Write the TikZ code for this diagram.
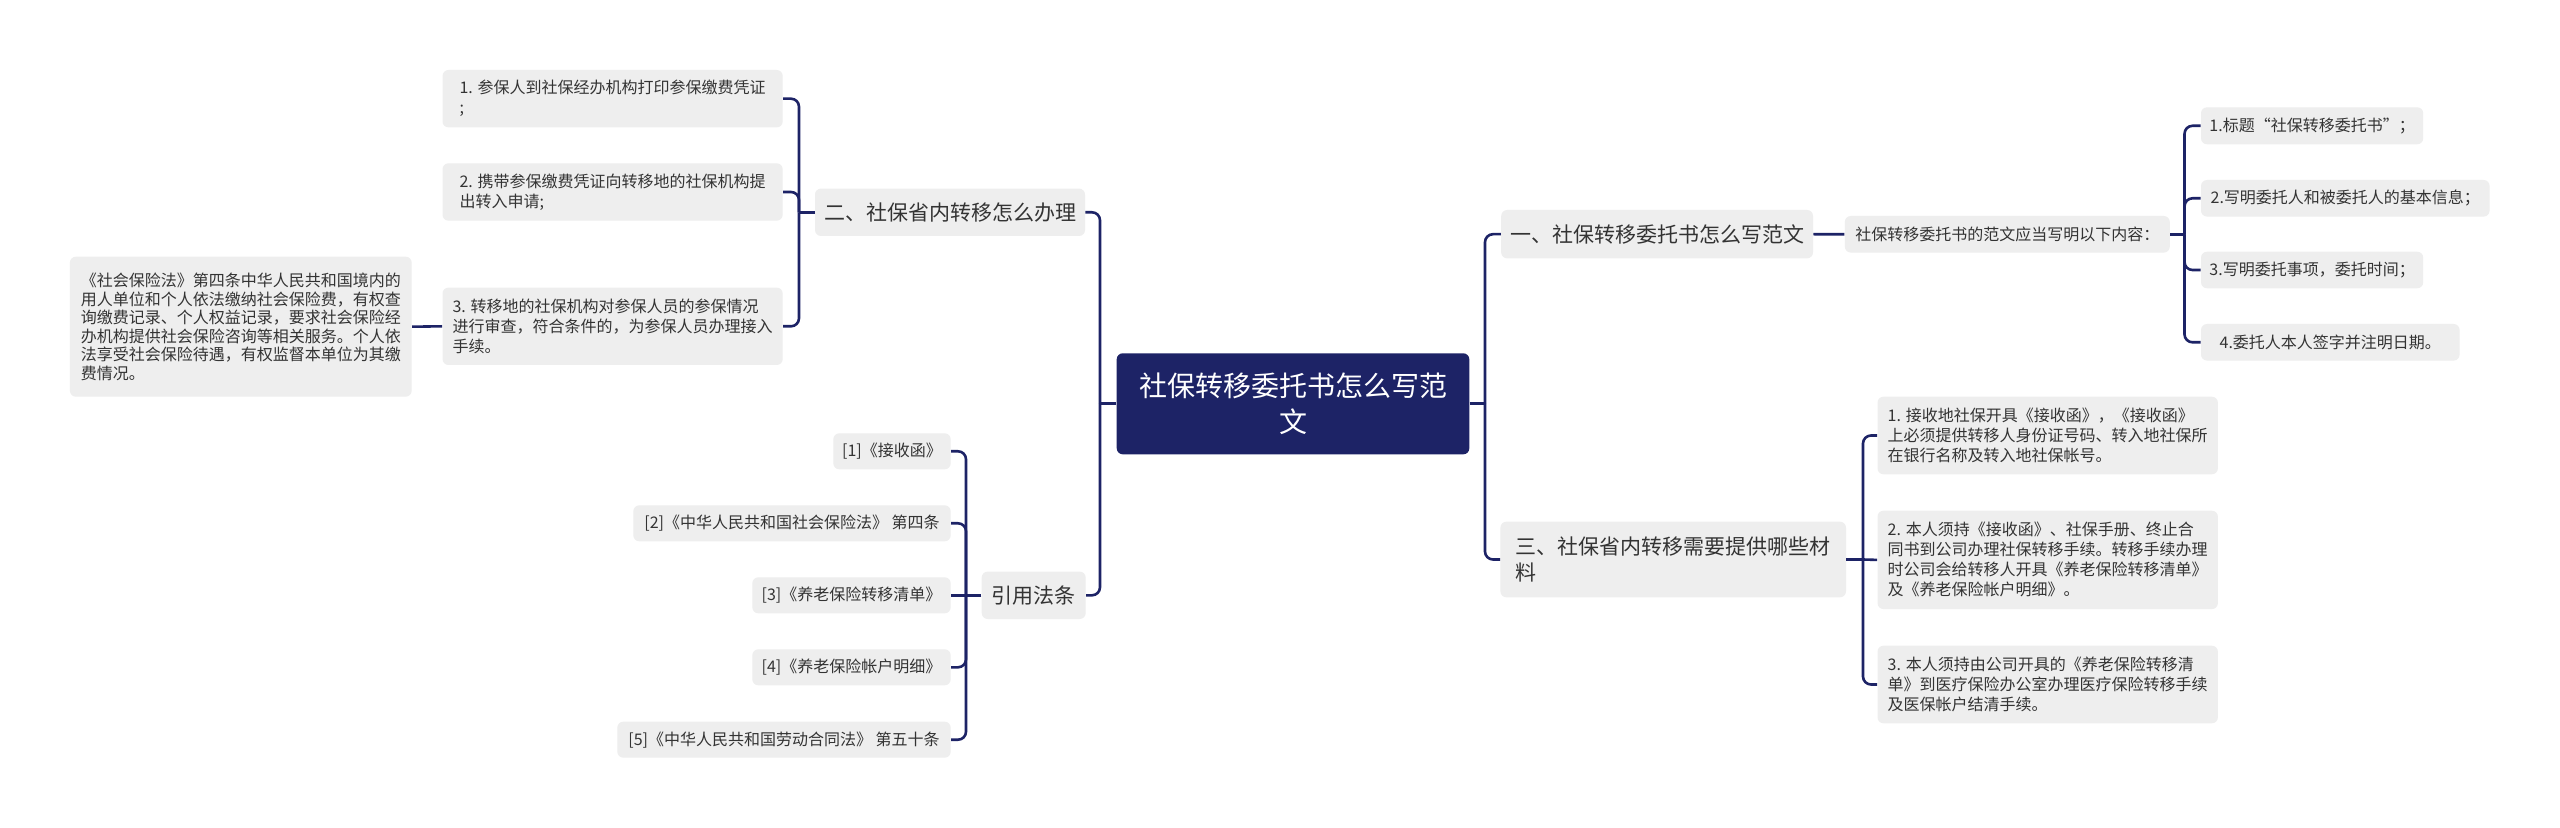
\documentclass[tikz,border=0pt]{standalone}
\usepackage{fontspec}
\setmainfont{Noto Sans CJK SC}
\definecolor{navy}{HTML}{1D2366}
\definecolor{boxgray}{HTML}{EEEEEE}
\definecolor{txt}{HTML}{333333}
\begin{document}
\begin{tikzpicture}[x=0.5pt,y=-0.5pt,
  box/.style={fill=boxgray, rounded corners=3pt, inner sep=0pt, text=txt, align=left},
  leaf/.style={box, font=\fontsize{8}{10}\selectfont},
  topic/.style={box, font=\fontsize{10.5}{13.3}\selectfont},
  rootbox/.style={fill=navy, rounded corners=3pt, inner sep=0pt, text=white, align=center, font=\fontsize{14}{18.3}\selectfont},
  conn/.style={draw=navy, line width=1.3pt, rounded corners=4pt},
  sz/.style 2 args={minimum width=#1pt, minimum height=#2pt}]
\useasboundingbox[fill=white] (0,0) rectangle (2560,828);

% root
\node[rootbox, sz={176.3}{50.5}] (root) at (1293,403.8) {社保转移委托书怎么写范\\文};

% level 1
\node[topic, sz={135}{23.7}] (t2) at (950,212.3) {二、社保省内转移怎么办理};
\node[topic, sz={52}{23.7}] (tr) at (1033.7,595.3) {引用法条};
\node[topic, sz={155.9}{24.2}] (t1) at (1657.1,234.2) {一、社保转移委托书怎么写范文};
\node[topic, sz={172.8}{37.8}] (t3) at (1673.2,559.5) {三、社保省内转移需要提供哪些材\\料};

% branch 二
\node[leaf, sz={170.1}{28.7}] (L1) at (612.6,98.7) {1. 参保人到社保经办机构打印参保缴费凭证\\;};
\node[leaf, sz={170.1}{28.7}] (L2) at (612.6,192) {2. 携带参保缴费凭证向转移地的社保机构提\\出转入申请;};
\node[leaf, sz={170.1}{38.7}] (L3) at (612.6,326.3) {3. 转移地的社保机构对参保人员的参保情况\\进行审查，符合条件的，为参保人员办理接入\\手续。};
\node[box, font=\fontsize{8}{9.25}\selectfont, sz={170.9}{70}] (far) at (240.8,326.7) {《社会保险法》第四条中华人民共和国境内的\\用人单位和个人依法缴纳社会保险费，有权查\\询缴费记录、个人权益记录，要求社会保险经\\办机构提供社会保险咨询等相关服务。个人依\\法享受社会保险待遇，有权监督本单位为其缴\\费情况。};

% branch 引用法条
\node[leaf, sz={58.7}{18}] (f1) at (892,451.3) {[1]《接收函》};
\node[leaf, sz={158.7}{18}] (f2) at (792,523.3) {[2]《中华人民共和国社会保险法》 第四条};
\node[leaf, sz={99.2}{18}] (f3) at (851.5,595.3) {[3]《养老保险转移清单》};
\node[leaf, sz={99.2}{18}] (f4) at (851.5,667.3) {[4]《养老保险帐户明细》};
\node[leaf, sz={166.7}{18}] (f5) at (784,739.7) {[5]《中华人民共和国劳动合同法》 第五十条};

% branch 一
\node[leaf, sz={162.5}{18.3}] (mid) at (2007.3,234.3) {社保转移委托书的范文应当写明以下内容：};
\node[leaf, sz={111.1}{18.5}] (r1) at (2312.1,125.8) {1.标题“社保转移委托书”；};
\node[leaf, sz={144.3}{18.3}] (r2) at (2345.3,198.3) {2.写明委托人和被委托人的基本信息；};
\node[leaf, sz={111.1}{18.3}] (r3) at (2312.1,270) {3.写明委托事项，委托时间；};
\node[leaf, sz={129.3}{18.3}] (r4) at (2330.3,342.3) {4.委托人本人签字并注明日期。};

% branch 三
\node[leaf, sz={170.2}{38.8}] (s1) at (2047.7,435.5) {1. 接收地社保开具《接收函》，《接收函》\\上必须提供转移人身份证号码、转入地社保所\\在银行名称及转入地社保帐号。};
\node[leaf, sz={170.2}{49.2}] (s2) at (2047.7,559.9) {2. 本人须持《接收函》、社保手册、终止合\\同书到公司办理社保转移手续。转移手续办理\\时公司会给转移人开具《养老保险转移清单》\\及《养老保险帐户明细》。};
\node[leaf, sz={170.2}{38.8}] (s3) at (2047.7,684.5) {3. 本人须持由公司开具的《养老保险转移清\\单》到医疗保险办公室办理医疗保险转移手续\\及医保帐户结清手续。};

% junctions
\coordinate (jRL) at (1100,403.8);
\coordinate (jRR) at (1485,403.8);
\coordinate (j2) at (799,212.3);
\coordinate (jr) at (966,595.3);
\coordinate (jm) at (2184.5,234.3);
\coordinate (j3) at (1863,559.5);

% connectors
\draw[conn] (root.west) -- (jRL);
\draw[conn] (jRL) |- (t2.east);
\draw[conn] (jRL) |- (tr.east);
\draw[conn] (root.east) -- (jRR);
\draw[conn] (jRR) |- (t1.west);
\draw[conn] (jRR) |- (t3.west);

\draw[conn] (t2.west) -- (j2);
\draw[conn] (j2) |- (L1.east);
\draw[conn] (j2) |- (L2.east);
\draw[conn] (j2) |- (L3.east);
\draw[conn] (L3.west) -- (far.east);

\draw[conn] (tr.west) -- (jr);
\draw[conn] (jr) |- (f1.east);
\draw[conn] (jr) |- (f2.east);
\draw[conn] (jr) -- (f3.east);
\draw[conn] (jr) |- (f4.east);
\draw[conn] (jr) |- (f5.east);

\draw[conn] (t1.east) -- (mid.west);
\draw[conn] (mid.east) -- (jm);
\draw[conn] (jm) |- (r1.west);
\draw[conn] (jm) |- (r2.west);
\draw[conn] (jm) |- (r3.west);
\draw[conn] (jm) |- (r4.west);

\draw[conn] (t3.east) -- (j3);
\draw[conn] (j3) |- (s1.west);
\draw[conn] (j3) -- (s2.west);
\draw[conn] (j3) |- (s3.west);
\end{tikzpicture}
\end{document}
